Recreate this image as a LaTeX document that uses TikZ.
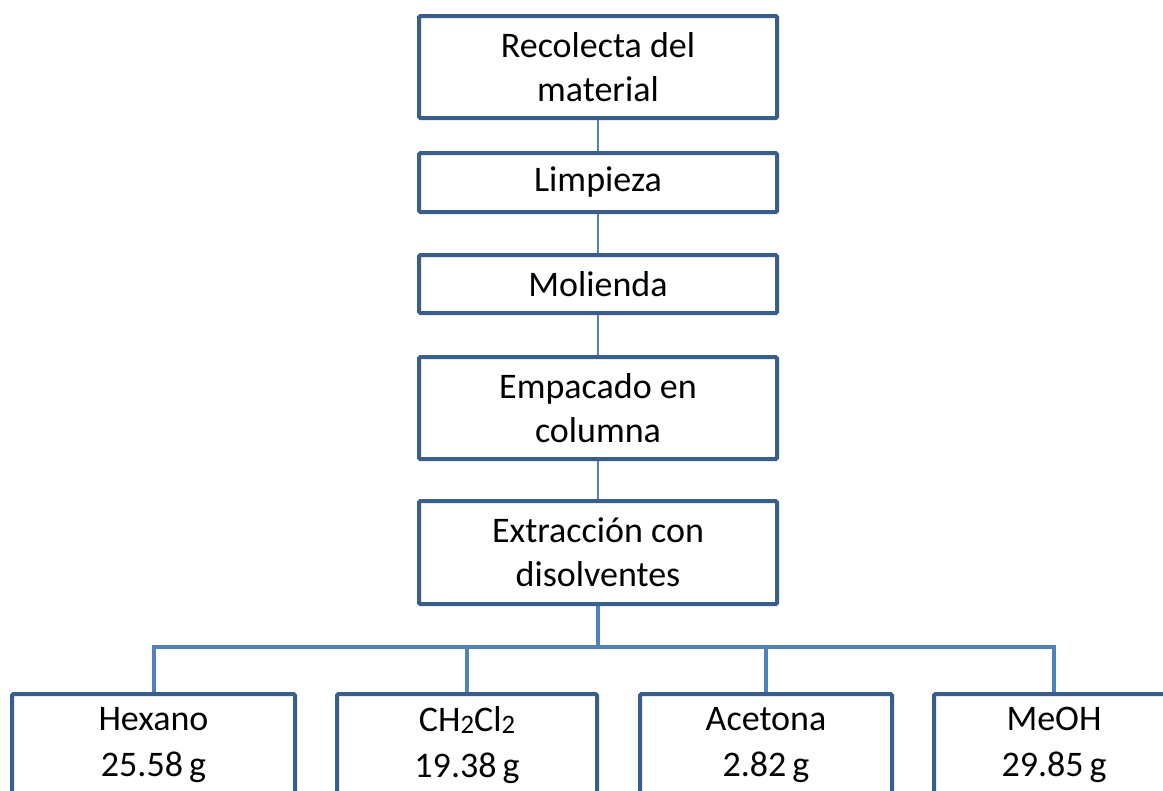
\documentclass[tikz,border=0pt]{standalone}
\usepackage{fontspec}
\setmainfont{Carlito}
\definecolor{boxline}{HTML}{3A5E8C}
\definecolor{conn}{HTML}{4F81BD}
\begin{document}
\begin{tikzpicture}[x=0.75pt,y=-0.75pt,
  stepbox/.style={draw=boxline,line width=3pt,rounded corners=1pt,fill=white,
    minimum width=358*0.75pt,align=center,inner sep=0pt,
    font=\fontsize{27}{33}\selectfont},
  lowbox/.style={draw=boxline,line width=3pt,rounded corners=1pt,fill=white,anchor=north,inner sep=0pt},
  lbl/.style={align=center,inner sep=0pt,font=\fontsize{27}{34}\selectfont},
  thin/.style={draw=conn,line width=0.8pt},
  thick/.style={draw=conn,line width=3pt}]
\useasboundingbox (0,0) rectangle (1163,790);
\clip (0,0) rectangle (1163,790);
\fill[white] (0,0) rectangle (1163,790);
% upper chain
\node[stepbox,minimum height=102*0.75pt] (rec) at (598,67) {Recolecta del\\material};
\node[stepbox,minimum height=59*0.75pt] (lim) at (598,182.5) {Limpieza};
\node[stepbox,minimum height=58*0.75pt] (mol) at (598,284) {Molienda};
\node[stepbox,minimum height=102*0.75pt] (emp) at (598,408) {Empacado en\\columna};
\node[stepbox,minimum height=103*0.75pt] (ext) at (598,552.5) {Extracción con\\disolventes};
\draw[thin] (rec.south) -- (lim.north);
\draw[thin] (lim.south) -- (mol.north);
\draw[thin] (mol.south) -- (emp.north);
\draw[thin] (emp.south) -- (ext.north);
% bottom boxes
\node[lowbox,minimum width=283*0.75pt,minimum height=150*0.75pt] (hex) at (153.5,692) {};
\node[lowbox,minimum width=260*0.75pt,minimum height=150*0.75pt] (ch) at (467,692) {};
\node[lowbox,minimum width=252*0.75pt,minimum height=150*0.75pt] (ace) at (766,692) {};
\node[lowbox,minimum width=240*0.75pt,minimum height=150*0.75pt] (meo) at (1054,692) {};
\node[lbl] (hexl) at (153.5,745) {Hexano\\25.58\,g};
\node[lbl] (chl) at (467,745) {CH{\fontsize{20}{20}\selectfont\raisebox{-1.5pt}{2}}Cl{\fontsize{20}{20}\selectfont\raisebox{-1.5pt}{2}}\\19.38\,g};
\node[lbl] (acel) at (766,745) {Acetona\\2.82\,g};
\node[lbl] (meol) at (1054,745) {MeOH\\29.85\,g};
% tree
\coordinate (bus) at (598,647);
\draw[thick,line join=miter] (ext.south) -- (bus);
\draw[thick,line join=miter] (hex.north) |- (bus) -| (meo.north);
\draw[thick] (ch.north) -- (ch.north |- bus);
\draw[thick] (ace.north) -- (ace.north |- bus);
\end{tikzpicture}
\end{document}
